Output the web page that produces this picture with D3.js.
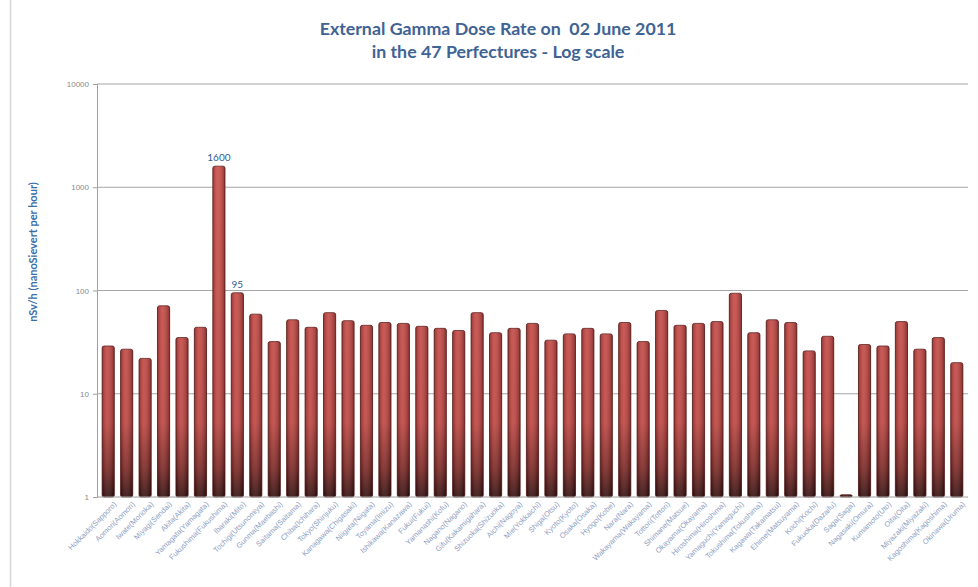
<!DOCTYPE html>
<html>
<head>
<meta charset="utf-8">
<script src="https://cdn.jsdelivr.net/npm/d3@7"></script>
<style>
  body { margin: 0; background: #fff; }
  svg { display: block; font-family: Lato, "Open Sans", sans-serif; }
</style>
</head>
<body>
<div id="chart"></div>
<script>
// prefecture (city) names along the x axis
var prefectures = ["Hokkaido(Sapporo)", "Aomori(Aomori)", "Iwate(Morioka)", "Miyagi(Sendai)", "Akita(Akita)",
  "Yamagata(Yamagata)", "Fukushima(Fukushima)", "Ibaraki(Mito)", "Tochigi(Utsunomiya)", "Gunma(Maebashi)",
  "Saitama(Saitama)", "Chiba(Ichihara)", "Tokyo(Shinjuku)", "Kanagawa(Chigasaki)", "Niigata(Niigata)",
  "Toyama(Imizu)", "Ishikawa(Kanazawa)", "Fukui(Fukui)", "Yamanashi(Kofu)", "Nagano(Nagano)",
  "Gifu(Kakamigahara)", "Shizuoka(Shizuoka)", "Aichi(Nagoya)", "Mie(Yokkaichi)", "Shiga(Otsu)",
  "Kyoto(Kyoto)", "Osaka(Osaka)", "Hyogo(Kobe)", "Nara(Nara)", "Wakayama(Wakayama)",
  "Tottori(Tottori)", "Shimane(Matsue)", "Okayama(Okayama)", "Hiroshima(Hiroshima)", "Yamaguchi(Yamaguchi)",
  "Tokushima(Tokushima)", "Kagawa(Takamatsu)", "Ehime(Matsuyama)", "Kochi(Kochi)", "Fukuoka(Dazaifu)",
  "Saga(Saga)", "Nagasaki(Omura)", "Kumamoto(Uto)", "Oita(Oita)", "Miyazaki(Miyazaki)",
  "Kagoshima(Kagoshima)", "Okinawa(Uruma)"];

// dose rate, nSv/h
var doseRate = [29, 27, 22, 71, 35, 44, 1600, 95, 59, 32,
  52, 44, 61, 51, 46, 49, 48, 45, 43, 41,
  61, 39, 43, 48, 33, 38, 43, 38, 49, 32,
  64, 46, 48, 50, 94, 39, 52, 49, 26, 36,
  1.05, 30, 29, 50, 27, 35, 20];

// bars that carry a value label
var labelled = ["Fukushima(Fukushima)", "Ibaraki(Mito)"];
var yTicks = [1, 10, 100, 1000, 10000];

var data = prefectures.map(function(p, i) { return {name: p, value: doseRate[i]}; });

var W = 978, H = 587;
var plotL = 99, plotR = 966, plotT = 84, plotB = 497;

var svg = d3.select("#chart").append("svg")
  .attr("width", W).attr("height", H);

// chart frame
svg.append("rect")
  .attr("x", 10.5).attr("y", -6).attr("width", 990).attr("height", 600)
  .attr("rx", 8)
  .attr("fill", "none").attr("stroke", "#d4d4d4").attr("stroke-width", 1.5);

var defs = svg.append("defs");
var vg = defs.append("linearGradient").attr("id", "barV")
  .attr("gradientUnits", "userSpaceOnUse")
  .attr("x1", 0).attr("x2", 0).attr("y1", plotT).attr("y2", plotB);
vg.append("stop").attr("offset", "0%").attr("stop-color", "#d24c47");
vg.append("stop").attr("offset", "82%").attr("stop-color", "#bd403c");
vg.append("stop").attr("offset", "93%").attr("stop-color", "#7a2320");
vg.append("stop").attr("offset", "100%").attr("stop-color", "#2e0908");

var hg = defs.append("linearGradient").attr("id", "barH")
  .attr("x1", 0).attr("x2", 1).attr("y1", 0).attr("y2", 0);
hg.append("stop").attr("offset", "0%").attr("stop-color", "#000").attr("stop-opacity", 0.25);
hg.append("stop").attr("offset", "40%").attr("stop-color", "#fff").attr("stop-opacity", 0.12);
hg.append("stop").attr("offset", "100%").attr("stop-color", "#000").attr("stop-opacity", 0.3);

var x = d3.scaleBand()
  .domain(prefectures)
  .range([plotL, plotR])
  .paddingInner(0.34)
  .paddingOuter(0.17);

var y = d3.scaleLog()
  .domain([1, 10000])
  .range([plotB, plotT]);

// gridlines
svg.append("g")
  .selectAll("line")
  .data(yTicks.slice(1))
  .join("line")
  .attr("x1", plotL - 2).attr("x2", plotR + 2)
  .attr("y1", function(d) { return y(d); })
  .attr("y2", function(d) { return y(d); })
  .attr("stroke", "#a6a6a6").attr("stroke-width", 1.2);

// y axis
var yAxis = svg.append("g")
  .attr("transform", "translate(" + (plotL - 2) + ",0)")
  .call(d3.axisLeft(y).tickValues(yTicks).tickFormat(d3.format("d")).tickSize(4).tickPadding(4));
yAxis.select(".domain").attr("stroke", "#a0a0a0");
yAxis.selectAll(".tick line").attr("stroke", "#a0a0a0");
yAxis.selectAll(".tick text").attr("fill", "#8a8a8a").style("font-size", "8px");

// bars
var bars = svg.append("g");
bars.selectAll("rect.bar")
  .data(data)
  .join("rect")
  .attr("class", "bar")
  .attr("x", function(d) { return x(d.name); })
  .attr("y", function(d) { return y(d.value); })
  .attr("width", x.bandwidth())
  .attr("height", function(d) { return plotB - y(d.value); })
  .attr("rx", 2)
  .attr("fill", "url(#barV)")
  .attr("stroke", "#5a1a18").attr("stroke-width", 0.8);
bars.selectAll("rect.shade")
  .data(data)
  .join("rect")
  .attr("class", "shade")
  .attr("x", function(d) { return x(d.name); })
  .attr("y", function(d) { return y(d.value); })
  .attr("width", x.bandwidth())
  .attr("height", function(d) { return plotB - y(d.value); })
  .attr("rx", 2)
  .attr("fill", "url(#barH)");

// x axis
var xAxis = svg.append("g")
  .attr("transform", "translate(0," + plotB + ")")
  .call(d3.axisBottom(x).tickSize(0).tickPadding(6));
xAxis.select(".domain").attr("stroke", "#a0a0a0").attr("d", "M" + (plotL - 2) + ",0H" + (plotR + 2));
xAxis.selectAll(".tick text")
  .attr("fill", "#8ea0bf")
  .style("font-size", "7.5px")
  .attr("text-anchor", "end")
  .attr("transform", "translate(3,2) rotate(-45)")
  .attr("dy", "0.3em");

// value labels
svg.append("g")
  .selectAll("text")
  .data(data.filter(function(d) { return labelled.indexOf(d.name) >= 0; }))
  .join("text")
  .attr("x", function(d) { return x(d.name) + x.bandwidth() / 2; })
  .attr("y", function(d) { return y(d.value) - 5; })
  .attr("text-anchor", "middle")
  .attr("fill", "#2f5d8f")
  .style("font-size", "10px")
  .text(function(d) { return d.value; });

// y axis title
svg.append("text")
  .attr("transform", "translate(37,252) rotate(-90)")
  .attr("text-anchor", "middle")
  .attr("fill", "#3a6ea8")
  .style("font-size", "11px")
  .style("font-weight", "bold")
  .text("nSv/h (nanoSievert per hour)");

// title
var title = svg.append("text")
  .attr("text-anchor", "middle")
  .attr("fill", "#3f6394")
  .style("font-size", "17.8px")
  .style("font-weight", "bold");
title.append("tspan").attr("x", 498).attr("y", 35).attr("xml:space", "preserve")
  .text("External Gamma Dose Rate on  02 June 2011");
title.append("tspan").attr("x", 498).attr("y", 58)
  .text("in the 47 Perfectures - Log scale");
</script>
</body>
</html>
